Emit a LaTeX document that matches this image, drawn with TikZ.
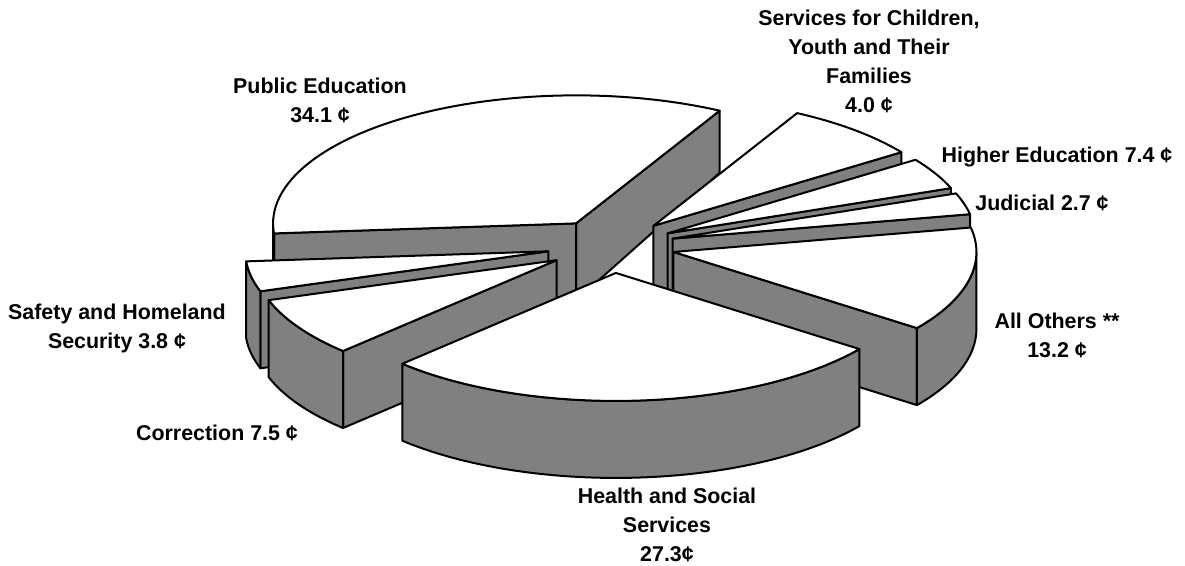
\documentclass[tikz,border=0pt]{standalone}
\usepackage{fontspec}
\setmainfont{Liberation Sans}
\begin{document}
\begin{tikzpicture}[x=1pt,y=1pt]
  \tikzset{every path/.style={line width=2pt, line join=round},
    wall/.style={draw=black, fill=gray},
    lid/.style={draw=black, fill=white},
    share/.style={font=\bfseries\fontsize{21.4}{29}\selectfont, align=center, anchor=base, inner sep=0pt}}
  \useasboundingbox (0,0) rectangle (1185,-565);
  % wedges, back to front: start/end angle
  \foreach \a/\b in {421.7/544.5, 395.1/421.7, 380.7/395.1, 371/380.7,
                     184.5/198.2, 323.5/371, 198.2/225.2, 225.2/323.5} {
    \pgfmathsetmacro{\m}{(\a+\b)/2}
    \pgfmathsetmacro{\ax}{611+64*cos(\m)}
    \pgfmathsetmacro{\ay}{-246+27*sin(\m)}
    \coordinate (apex) at (\ax,\ay);
    \coordinate (foot) at (\ax,\ay-77);
    % radial faces
    \pgfmathtruncatemacro{\see}{cos(\a)>0}
    \ifnum\see=1
      \draw[wall] (apex) -- ++({303*cos(\a)},{128*sin(\a)}) -- ++(0,{-77+17*max(sin(\a),0)}) -- (foot) -- cycle;
    \fi
    \pgfmathtruncatemacro{\see}{cos(\b)<0}
    \ifnum\see=1
      \draw[wall] (apex) -- ++({303*cos(\b)},{128*sin(\b)}) -- ++(0,{-77+17*max(sin(\b),0)}) -- (foot) -- cycle;
    \fi
    % rim, front half only
    \foreach \f in {180,540} {
      \pgfmathsetmacro{\lo}{max(\a,\f)}
      \pgfmathsetmacro{\hi}{min(\b,\f+180)}
      \pgfmathtruncatemacro{\see}{\hi>\lo}
      \ifnum\see=1
        \draw[wall] ({\ax+303*cos(\lo)},{\ay+128*sin(\lo)}) arc[start angle=\lo, end angle=\hi, x radius=303, y radius=128]
          -- ++(0,-77) arc[start angle=\hi, end angle=\lo, x radius=303, y radius=128] -- cycle;
      \fi
    }
    % top
    \draw[lid] (apex) -- ++({303*cos(\a)},{128*sin(\a)}) arc[start angle=\a, end angle=\b, x radius=303, y radius=128] -- cycle;
  }
  % labels, placed at the baseline of their last line
  \node[share] (pubedu) at (320,-122) {Public Education\\34.1 ¢};
  \node[share] (kids) at (869,-112) {Services for Children,\\Youth and Their\\Families\\4.0 ¢};
  \node[share] (higher) at (1057,-162) {Higher Education 7.4 ¢};
  \node[share] (judic) at (1042,-210) {Judicial 2.7 ¢};
  \node[share] (others) at (1057,-357) {All Others **\\13.2 ¢};
  \node[share] (safety) at (117,-348) {Safety and Homeland\\Security 3.8 ¢};
  \node[share] (correct) at (217,-440) {Correction 7.5 ¢};
  \node[share] (health) at (667,-561) {Health and Social\\Services\\27.3¢};
\end{tikzpicture}
\end{document}
